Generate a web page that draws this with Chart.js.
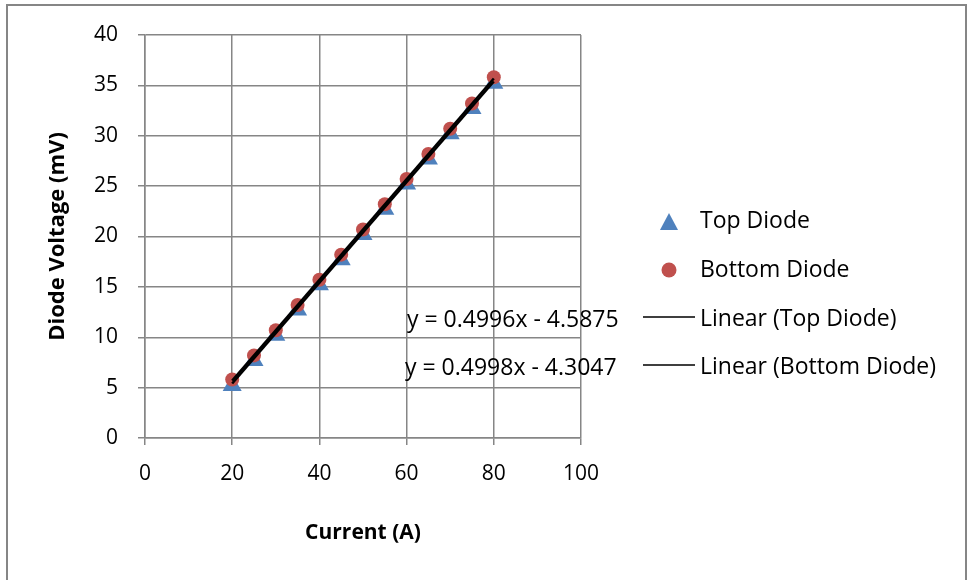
<!DOCTYPE html>
<html>
<head>
<meta charset="utf-8">
<script src="https://cdn.jsdelivr.net/npm/chart.js@4"></script>
<style>
    body { margin: 0; background: #fff; }
    #wrap { width: 967px; height: 580px; }
</style>
</head>
<body>
<div id="wrap"><canvas id="diodeChart" width="967" height="580"></canvas></div>
<script>
// Current (A) for each measurement
const currents = [20, 25, 30, 35, 40, 45, 50, 55, 60, 65, 70, 75, 80];
// Diode voltage (mV)
const topDiode = [5.2, 7.7, 10.2, 12.7, 15.2, 17.7, 20.2, 22.7, 25.2, 27.7, 30.2, 32.7, 35.2];
const bottomDiode = [5.8, 8.2, 10.7, 13.2, 15.7, 18.2, 20.7, 23.2, 25.7, 28.2, 30.7, 33.2, 35.8];

// Trendline coefficients as printed on the chart
const topFit = { slope: 0.4996, intercept: -4.5875 };
const bottomFit = { slope: 0.4998, intercept: -4.3047 };
const topEquation = 'y = 0.4996x - 4.5875';
const bottomEquation = 'y = 0.4998x - 4.3047';

const xTicks = [0, 20, 40, 60, 80, 100];
const yTicks = [0, 5, 10, 15, 20, 25, 30, 35, 40];

const FONT = '"Open Sans", "DejaVu Sans", sans-serif';
const GRID = '#868686';
const BLUE = '#4F81BD';
const RED = '#C0504D';

function points(xs, ys) {
    return xs.map((x, i) => ({ x: x, y: ys[i] }));
}

// Trendline runs from the first to the last measured current
function fitLine(fit) {
    const x0 = currents[0];
    const x1 = currents[currents.length - 1];
    return [
        { x: x0, y: fit.slope * x0 + fit.intercept },
        { x: x1, y: fit.slope * x1 + fit.intercept }
    ];
}

// Outer frame and the Excel-style legend with equations
const excelDecor = {
    id: 'excelDecor',
    beforeDraw(chart) {
        const ctx = chart.ctx;
        ctx.save();
        ctx.fillStyle = '#fff';
        ctx.fillRect(0, 0, chart.width, chart.height);
        ctx.strokeStyle = GRID;
        ctx.lineWidth = 2;
        ctx.strokeRect(7, 5, 959, 620);
        ctx.restore();
    },
    afterDraw(chart) {
        const ctx = chart.ctx;
        ctx.save();
        ctx.font = '23px ' + FONT;
        ctx.textBaseline = 'middle';
        ctx.textAlign = 'left';

        // Top Diode marker
        ctx.fillStyle = BLUE;
        ctx.beginPath();
        ctx.moveTo(669, 213);
        ctx.lineTo(678, 230);
        ctx.lineTo(660, 230);
        ctx.closePath();
        ctx.fill();
        // Bottom Diode marker
        ctx.fillStyle = RED;
        ctx.beginPath();
        ctx.arc(669, 270, 7.5, 0, Math.PI * 2);
        ctx.fill();
        // trendline samples
        ctx.strokeStyle = '#000';
        ctx.lineWidth = 1.5;
        ctx.beginPath();
        ctx.moveTo(643, 317); ctx.lineTo(695, 317);
        ctx.moveTo(643, 365); ctx.lineTo(695, 365);
        ctx.stroke();

        ctx.fillStyle = '#000';
        ctx.fillText('Top Diode', 700, 221);
        ctx.fillText('Bottom Diode', 700, 270);
        ctx.fillText('Linear (Top Diode)', 700, 319);
        ctx.fillText('Linear (Bottom Diode)', 700, 367);
        ctx.fillText(topEquation, 407, 320);
        ctx.fillText(bottomEquation, 405, 368);
        ctx.restore();
    }
};

const ctx = document.getElementById('diodeChart').getContext('2d');
const diodeChart = new Chart(ctx, {
    type: 'scatter',
    data: {
        datasets: [
            {
                label: 'Linear (Top Diode)',
                data: fitLine(topFit),
                showLine: true,
                borderColor: '#000',
                borderWidth: 2.5,
                pointRadius: 0,
                order: 0
            },
            {
                label: 'Linear (Bottom Diode)',
                data: fitLine(bottomFit),
                showLine: true,
                borderColor: '#000',
                borderWidth: 2.5,
                pointRadius: 0,
                order: 0
            },
            {
                label: 'Bottom Diode',
                data: points(currents, bottomDiode),
                pointStyle: 'circle',
                pointRadius: 7,
                backgroundColor: RED,
                borderColor: RED,
                borderWidth: 0,
                order: 1
            },
            {
                label: 'Top Diode',
                data: points(currents, topDiode),
                pointStyle: 'triangle',
                pointRadius: 11,
                backgroundColor: BLUE,
                borderColor: BLUE,
                borderWidth: 0,
                order: 2
            }
        ]
    },
    options: {
        responsive: false,
        animation: false,
        layout: { padding: { left: 8, top: 35, right: 386, bottom: 0 } },
        plugins: {
            legend: { display: false },
            tooltip: { enabled: false }
        },
        scales: {
            x: {
                type: 'linear',
                min: 0,
                max: 100,
                afterFit: function(scale) { scale.height = 142; },
                afterBuildTicks: function(scale) {
                    scale.ticks = xTicks.map(v => ({ value: v }));
                },
                grid: { color: GRID, lineWidth: 1.5, tickLength: 7 },
                border: { color: GRID, width: 1.5 },
                ticks: {
                    color: '#000',
                    padding: 16,
                    maxRotation: 0,
                    font: { family: FONT, size: 21 }
                },
                title: {
                    display: true,
                    text: 'Current (A)',
                    color: '#000',
                    padding: 34,
                    font: { family: FONT, size: 21, weight: 'bold' }
                }
            },
            y: {
                type: 'linear',
                min: 0,
                max: 40,
                afterFit: function(scale) { scale.width = 137; },
                afterBuildTicks: function(scale) {
                    scale.ticks = yTicks.map(v => ({ value: v }));
                },
                grid: { color: GRID, lineWidth: 1.5, tickLength: 7 },
                border: { color: GRID, width: 1.5 },
                ticks: {
                    color: '#000',
                    padding: 20,
                    font: { family: FONT, size: 21 }
                },
                title: {
                    display: true,
                    text: 'Diode Voltage (mV)',
                    color: '#000',
                    padding: 37,
                    font: { family: FONT, size: 22, weight: 'bold' }
                }
            }
        }
    },
    plugins: [excelDecor]
});
</script>
</body>
</html>
